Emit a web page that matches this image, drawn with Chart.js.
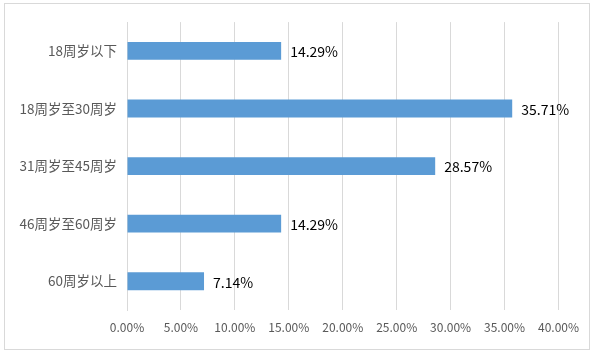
<!DOCTYPE html>
<html>
<head>
<meta charset="utf-8">
<script src="https://cdn.jsdelivr.net/npm/chart.js@4"></script>
<style>
  body { margin: 0; background: #fff; }
  .chart-box {
    position: absolute; left: 4px; top: 3px;
    width: 584px; height: 345px;
    border: 1px solid #d9d9d9;
  }
</style>
</head>
<body>
<div class="chart-box"><canvas id="myChart"></canvas></div>
<script>
const categories = ['18周岁以下', '18周岁至30周岁', '31周岁至45周岁', '46周岁至60周岁', '60周岁以上'];
const shares = [14.29, 35.71, 28.57, 14.29, 7.14];
const xTicks = [0, 5, 10, 15, 20, 25, 30, 35, 40];

const fontFamily = '"Noto Sans CJK SC", "Noto Sans", sans-serif';

// draws the value text just right of each bar
const barLabels = {
  id: 'barLabels',
  afterDatasetsDraw(chart) {
    const ctx = chart.ctx;
    const meta = chart.getDatasetMeta(0);
    ctx.save();
    ctx.font = '14px ' + fontFamily;
    ctx.fillStyle = '#000';
    ctx.textAlign = 'left';
    ctx.textBaseline = 'middle';
    meta.data.forEach((bar, i) => {
      ctx.fillText(shares[i].toFixed(2) + '%', bar.x + 9, bar.y + 1);
    });
    ctx.restore();
  }
};

new Chart(document.getElementById('myChart').getContext('2d'), {
  type: 'bar',
  data: {
    labels: categories,
    datasets: [{
      data: shares,
      backgroundColor: '#5b9bd5',
      borderWidth: 0,
      barPercentage: 0.31,
      categoryPercentage: 1
    }]
  },
  options: {
    indexAxis: 'y',
    responsive: true,
    maintainAspectRatio: false,
    animation: false,
    layout: {
      padding: { top: 17, left: 0, right: 30, bottom: 0 }
    },
    scales: {
      x: {
        min: 0,
        max: 40,
        afterBuildTicks(axis) {
          axis.ticks = xTicks.map(v => ({ value: v }));
        },
        afterFit(axis) { axis.height = 39; },
        grid: { color: '#d9d9d9', drawTicks: false },
        border: { display: false },
        ticks: {
          color: '#595959',
          padding: 10,
          font: { family: fontFamily, size: 12 },
          callback: v => v.toFixed(2) + '%'
        }
      },
      y: {
        afterFit(axis) { axis.width = 122; },
        grid: { display: false, drawTicks: false },
        border: { display: true, color: '#d9d9d9' },
        ticks: {
          color: '#595959',
          padding: 10,
          font: { family: fontFamily, size: 13.5 }
        }
      }
    },
    plugins: {
      legend: { display: false },
      title: { display: false },
      tooltip: { enabled: false }
    }
  },
  plugins: [barLabels]
});
</script>
</body>
</html>
